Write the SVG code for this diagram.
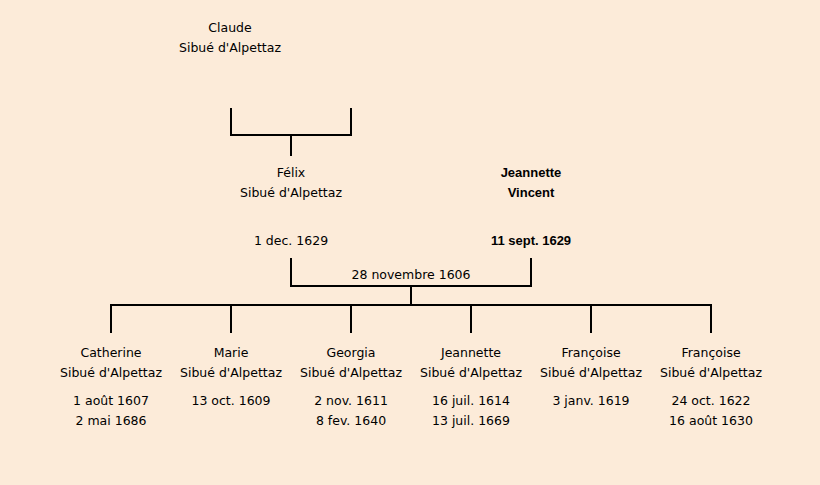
<svg xmlns="http://www.w3.org/2000/svg" width="820" height="485" viewBox="0 0 820 485">
<style>
text{font-family:"Comic Sans MS","DejaVu Sans","Liberation Sans",sans-serif;font-size:12.5px;fill:#000;text-anchor:middle}
.b{font-weight:bold;font-family:"Liberation Sans",Arial,sans-serif;font-size:13px}
.c{stroke:#000;stroke-width:2;fill:none}
</style>
<rect width="820" height="485" fill="#fcebd9"/>
<g id="connectors" class="c">
<path d="M231,108V135H351V108M291,135V156"/>
<path d="M291,258V286H531V258M411,286V305"/>
<path d="M111,333V305H711V333M231,305V333M351,305V333M471,305V333M591,305V333"/>
</g>
<g id="claude"><text x="230" y="32">Claude</text><text x="230" y="52">Sibué d'Alpettaz</text></g>
<g id="felix"><text x="291" y="177">Félix</text><text x="291" y="197">Sibué d'Alpettaz</text><text x="291" y="245">1 dec. 1629</text></g>
<g id="jeannette-vincent"><text class="b" x="531" y="177">Jeannette</text><text class="b" x="531" y="197">Vincent</text><text class="b" x="531" y="245">11 sept. 1629</text></g>
<g id="marriage"><text x="411" y="279">28 novembre 1606</text></g>
<g id="catherine"><text x="111" y="357">Catherine</text><text x="111" y="377">Sibué d'Alpettaz</text><text x="111" y="405">1 août 1607</text><text x="111" y="425">2 mai 1686</text></g>
<g id="marie"><text x="231" y="357">Marie</text><text x="231" y="377">Sibué d'Alpettaz</text><text x="231" y="405">13 oct. 1609</text></g>
<g id="georgia"><text x="351" y="357">Georgia</text><text x="351" y="377">Sibué d'Alpettaz</text><text x="351" y="405">2 nov. 1611</text><text x="351" y="425">8 fev. 1640</text></g>
<g id="jeannette"><text x="471" y="357">Jeannette</text><text x="471" y="377">Sibué d'Alpettaz</text><text x="471" y="405">16 juil. 1614</text><text x="471" y="425">13 juil. 1669</text></g>
<g id="francoise1"><text x="591" y="357">Françoise</text><text x="591" y="377">Sibué d'Alpettaz</text><text x="591" y="405">3 janv. 1619</text></g>
<g id="francoise2"><text x="711" y="357">Françoise</text><text x="711" y="377">Sibué d'Alpettaz</text><text x="711" y="405">24 oct. 1622</text><text x="711" y="425">16 août 1630</text></g>
</svg>
